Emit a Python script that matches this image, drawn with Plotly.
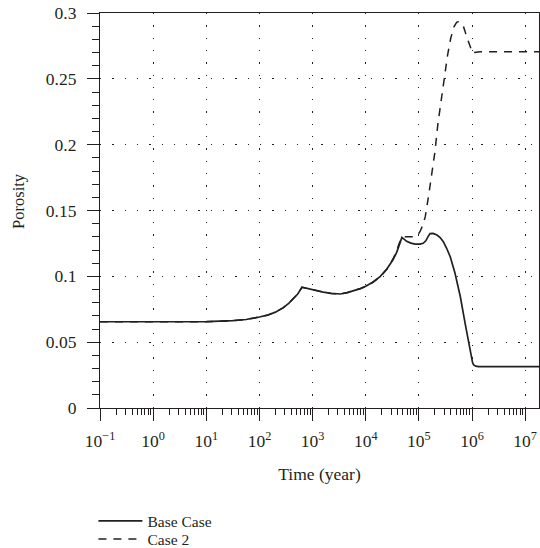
import plotly.graph_objects as go

# ---- data ----
base_time = [0.1, 1, 10, 31.6, 56.2, 100, 141, 200, 282, 355, 447, 525, 631,
             1000, 1585, 2239, 3311, 4467, 5888, 7943, 10000, 13490, 18620,
             25120, 32360, 38020, 41690, 45710, 47860, 58880, 70790, 85110,
             104700, 120200, 134900, 147900, 162200, 186200, 218800, 251200,
             288400, 331100, 389000, 478600, 602600, 741300, 912000, 1023000,
             1072000, 1175000, 1318000, 18200000]
base_porosity = [0.0655, 0.0655, 0.0656, 0.0663, 0.0672, 0.0691, 0.0705, 0.0728,
                 0.0762, 0.0795, 0.0833, 0.0866, 0.0917, 0.0896, 0.0880, 0.0870,
                 0.0866, 0.0876, 0.0890, 0.0907, 0.0925, 0.0955, 0.0998, 0.1058,
                 0.1124, 0.1180, 0.1225, 0.1270, 0.1296, 0.1266, 0.1252, 0.1245,
                 0.1245, 0.1251, 0.1270, 0.1300, 0.1325, 0.1326, 0.1314, 0.1295,
                 0.1263, 0.1215, 0.1149, 0.1023, 0.0845, 0.0643, 0.0440, 0.0345,
                 0.0327, 0.0318, 0.0314, 0.0314]

case2_time = [0.1, 1, 10, 31.6, 56.2, 100, 141, 200, 282, 355, 447, 525, 631,
              1000, 1585, 2239, 3311, 4467, 5888, 7943, 10000, 13490, 18620,
              25120, 32360, 38020, 41690, 45710, 47860, 56230, 83180, 95500,
              104700, 117500, 131800, 151400, 173800, 199500, 229100, 263000,
              302000, 346700, 398100, 457100, 512900, 562300, 616600, 691800,
              794300, 912000, 1023000, 1096000, 1413000, 18200000]
case2_porosity = [0.0655, 0.0655, 0.0656, 0.0663, 0.0672, 0.0691, 0.0705, 0.0728,
                  0.0762, 0.0795, 0.0833, 0.0866, 0.0917, 0.0896, 0.0880, 0.0870,
                  0.0866, 0.0876, 0.0890, 0.0907, 0.0924, 0.0953, 0.0995, 0.1055,
                  0.1130, 0.1190, 0.1240, 0.1278, 0.1298, 0.1300, 0.1300, 0.1315,
                  0.1339, 0.1385, 0.1453, 0.1605, 0.1780, 0.1940, 0.2165, 0.2350,
                  0.2525, 0.2680, 0.2810, 0.2895, 0.2929, 0.2935, 0.2925, 0.2896,
                  0.2820, 0.2744, 0.2694, 0.2700, 0.2706, 0.2706]

series_names = ["Base Case", "Case 2"]
x_title = "Time (year)"
y_title = "Porosity"

x_tick_vals = [0.1, 1, 10, 100, 1000, 1e4, 1e5, 1e6, 1e7]
x_tick_text = ["10<sup>\u22121</sup>", "10<sup>0</sup>", "10<sup>1</sup>",
               "10<sup>2</sup>", "10<sup>3</sup>", "10<sup>4</sup>",
               "10<sup>5</sup>", "10<sup>6</sup>", "10<sup>7</sup>"]
y_tick_vals = [0, 0.05, 0.1, 0.15, 0.2, 0.25, 0.3]
y_tick_text = ["0", "0.05", "0.1", "0.15", "0.2", "0.25", "0.3"]

x_minor_vals = [m * 10.0 ** e for e in range(-1, 7) for m in range(2, 10)]

INK = "#231f20"
FONT = "Liberation Serif"
FS = 17.5

fig = go.Figure()
fig.add_trace(go.Scatter(x=base_time, y=base_porosity, mode="lines",
                         name=series_names[0], legend="legend",
                         line=dict(color=INK, width=1.7)))
fig.add_trace(go.Scatter(x=case2_time, y=case2_porosity, mode="lines",
                         name=series_names[1], legend="legend2",
                         line=dict(color=INK, width=1.5, dash="8px,7px")))

legend_common = dict(xanchor="left", yanchor="middle",
                     bgcolor="rgba(0,0,0,0)", itemwidth=44,
                     font=dict(family=FONT, size=15.5, color=INK))

fig.update_layout(
    width=540, height=548,
    margin=dict(l=100, r=1, t=13, b=140, autoexpand=False),
    paper_bgcolor="white", plot_bgcolor="white",
    font=dict(family=FONT, size=FS, color=INK),
    showlegend=True,
    legend=dict(x=-0.015, y=-0.287, **legend_common),
    legend2=dict(x=-0.015, y=-0.333, **legend_common),
    annotations=[dict(text=y_title, textangle=-90, xref="paper", yref="paper",
                      x=-0.187, y=0.524, xanchor="center", yanchor="middle",
                      showarrow=False,
                      font=dict(family=FONT, size=16.5, color=INK))],
)

fig.update_xaxes(
    type="log", range=[-1, 7.26],
    tickmode="array", tickvals=x_tick_vals, ticktext=x_tick_text,
    ticks="outside", ticklen=12, tickwidth=1.2, tickcolor=INK,
    ticklabelstandoff=5,
    showline=True, linecolor=INK, linewidth=1.2, mirror=True,
    showgrid=True, gridcolor=INK, gridwidth=1.3, griddash="1.3px,11px",
    minor=dict(tickmode="array", tickvals=x_minor_vals, ticks="outside",
               ticklen=6, tickwidth=1.1, tickcolor=INK, showgrid=False),
    title=dict(text=x_title, font=dict(family=FONT, size=FS, color=INK),
               standoff=17),
    tickfont=dict(family=FONT, size=FS, color=INK),
    zeroline=False, automargin=False,
)
fig.update_yaxes(
    range=[0, 0.3],
    tickmode="array", tickvals=y_tick_vals, ticktext=y_tick_text,
    ticks="outside", ticklen=12, tickwidth=1.2, tickcolor=INK,
    ticklabelstandoff=7,
    showline=True, linecolor=INK, linewidth=1.2, mirror=True,
    showgrid=True, gridcolor=INK, gridwidth=1.3, griddash="1.3px,11px",
    minor=dict(dtick=0.01, ticks="outside", ticklen=7, tickwidth=1.1,
               tickcolor=INK, showgrid=False),
    tickfont=dict(family=FONT, size=FS, color=INK),
    zeroline=False, automargin=False,
)

fig.write_html("out.html")
